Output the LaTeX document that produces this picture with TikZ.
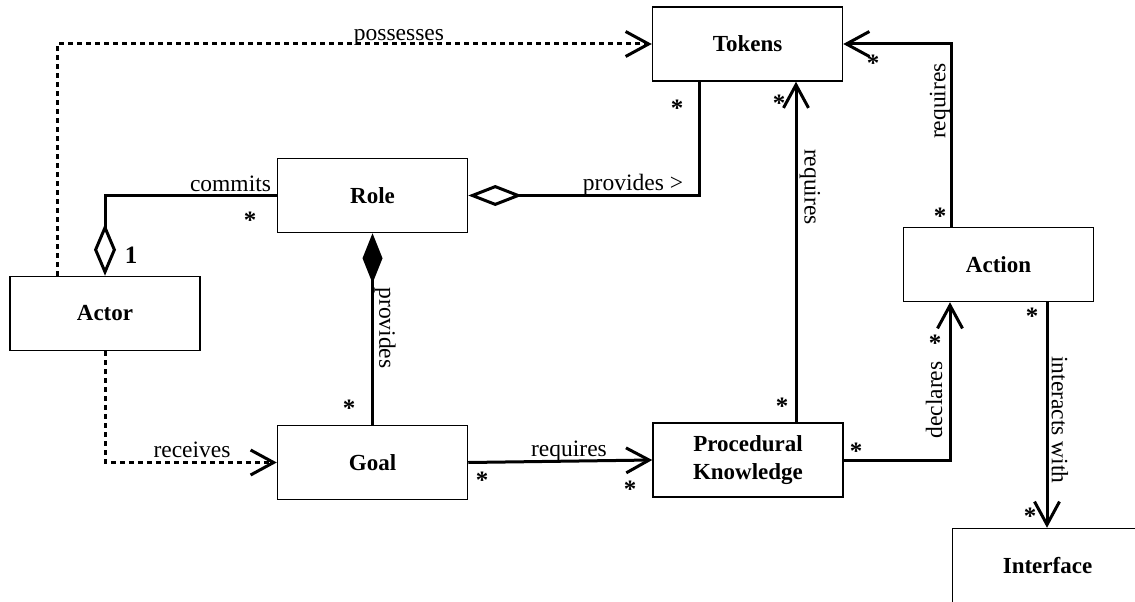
\documentclass[tikz,border=0pt]{standalone}
\usepackage{fontspec}
\setmainfont{Liberation Serif}
\usetikzlibrary{arrows.meta}
\begin{document}
\begin{tikzpicture}[x=1pt,y=-1pt,
  cls/.style={draw, line width=1.5pt, minimum width=190pt, minimum height=74pt,
    font=\fontsize{23}{28}\selectfont\bfseries, align=center, inner sep=0pt},
  assoc/.style={line width=3pt},
  dep/.style={line width=3pt, dash pattern=on 5pt off 4pt},
  opn/.style={-{Straight Barb[length=23pt,width=25pt]}},
  lbl/.style={font=\fontsize{23.5}{28}\selectfont, inner sep=0pt},
  mult/.style={font=\fontsize{25}{28}\selectfont\bfseries, inner sep=0pt},
]
\useasboundingbox (0,0) rectangle (1135,602);
\clip (0,0) rectangle (1135,602);

% classes
\node[cls] (tokens) at (747.5,44) {Tokens};
\node[cls] (role) at (372.5,195.5) {Role};
\node[cls] (actor) at (105,313.5) {Actor};
\node[cls] (action) at (998.5,264.5) {Action};
\node[cls] (goal) at (372.5,462.5) {Goal};
\node[cls] (pk) at (748,460) {Procedural\\Knowledge};
\node[cls] (iface) at (1047.5,565.5) {Interface};

% connectors
\draw[dep,opn] ([xshift=-48pt]actor.north) |- (tokens.west);
\draw[assoc,{Diamond[open,length=52pt,width=22pt]}-] (actor.north) |- (role.west);
\draw[assoc,{Diamond[open,length=54pt,width=21pt]}-] (role.east) -| ([xshift=-48.5pt]tokens.south);
\draw[assoc,{Diamond[length=50pt,width=20pt]}-] (role.south) -- (goal.north);
\draw[dep,opn] (actor.south) |- (goal.west);
\draw[assoc,opn] (goal.east) -- (pk.west);
\draw[assoc,opn] ([xshift=48pt]pk.north) -- ([xshift=48pt]pk.north |- tokens.south);
\draw[assoc,opn] ([xshift=-47.5pt]action.north) |- (tokens.east);
\draw[assoc,opn] (pk.east) -| ([xshift=-48.5pt]action.south);
\draw[assoc,opn] ([xshift=48.5pt]action.south) -- ([xshift=48.5pt]action.south |- iface.north);

% labels
\node[lbl,anchor=base] (lpos) at (399,41) {possesses};
\node[lbl,anchor=base] (lcom) at (230.5,191) {commits};
\node[lbl,anchor=base] (lprov) at (633,190) {provides >};
\node[lbl,anchor=base] (lrec) at (192,457) {receives};
\node[lbl,anchor=base] (lreq1) at (569,456) {requires};
\node[lbl,rotate=-90] (lprov2) at (385,328) {provides};
\node[lbl,rotate=-90] (lreq2) at (810,187) {requires};
\node[lbl,rotate=90] (lreq3) at (940,101) {requires};
\node[lbl,rotate=90] (ldec) at (934,400) {declares};
\node[lbl,rotate=-90] (lint) at (1060,420) {interacts with};

% multiplicities
\node[mult] (m1) at (131,255) {1};
\node[mult] (s1) at (250,220) {*};
\node[mult] (s2) at (677,108) {*};
\node[mult] (s3) at (349,408) {*};
\node[mult] (s4) at (482,480) {*};
\node[mult] (s5) at (630,489) {*};
\node[mult] (s6) at (782,406) {*};
\node[mult] (s7) at (779,103) {*};
\node[mult] (s8) at (873,63) {*};
\node[mult] (s9) at (940,216) {*};
\node[mult] (s10) at (856,451) {*};
\node[mult] (s11) at (935,343) {*};
\node[mult] (s12) at (1032,316) {*};
\node[mult] (s13) at (1030,516) {*};
\end{tikzpicture}
\end{document}
